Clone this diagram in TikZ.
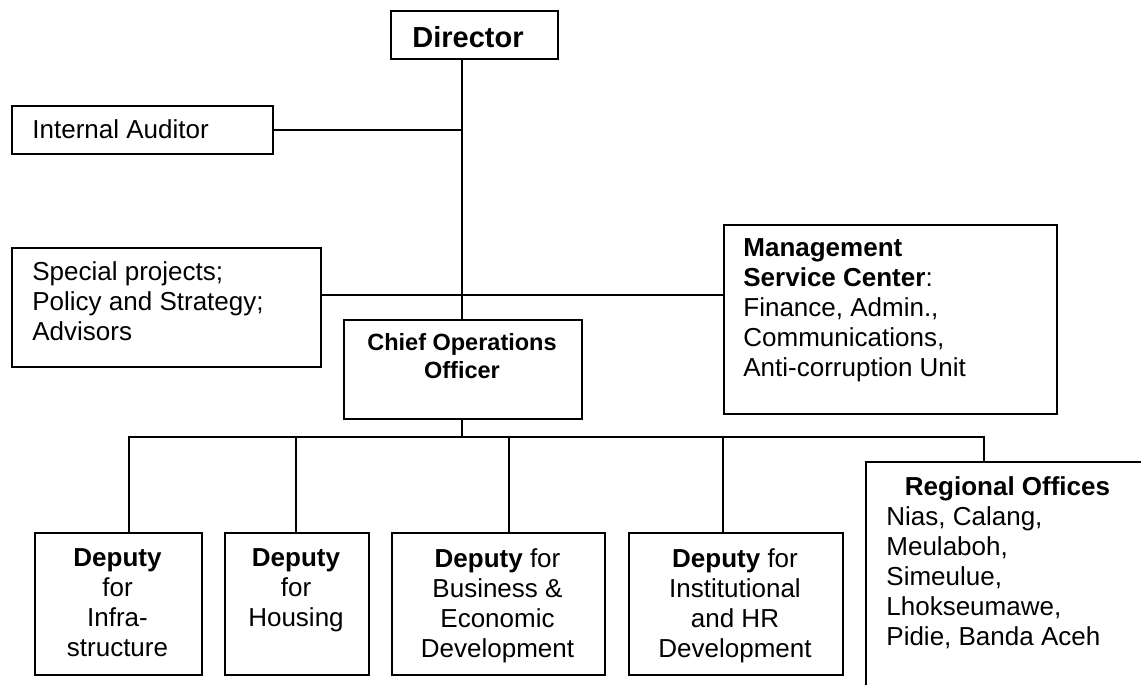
\documentclass[tikz,border=0pt]{standalone}
\usepackage{fontspec}
\setmainfont{Liberation Sans}
\begin{document}
\begin{tikzpicture}[x=0.5pt,y=-0.5pt,
  box/.style={draw=black,line width=1pt,rectangle,inner sep=0pt,anchor=north west},
  txt/.style={inner sep=0pt,font=\fontsize{13pt}{15pt}\selectfont},
  conn/.style={draw=black,line width=1pt}]
\useasboundingbox (0,0) rectangle (1141,685);
\clip (0,0) rectangle (1141,685);
% boxes
\node[box,minimum width=83.5pt,minimum height=24pt] (dir) at (390,10) {};
\node[box,minimum width=130.5pt,minimum height=24pt] (aud) at (11,105) {};
\node[box,minimum width=154.5pt,minimum height=59.5pt] (spec) at (11,247) {};
\node[box,minimum width=119pt,minimum height=49.5pt] (coo) at (343,319) {};
\node[box,minimum width=166.5pt,minimum height=94.5pt] (msc) at (723,224) {};
\node[box,minimum width=83.5pt,minimum height=71pt] (d1) at (34,532) {};
\node[box,minimum width=72pt,minimum height=71pt] (d2) at (224,532) {};
\node[box,minimum width=106.5pt,minimum height=71pt] (d3) at (391,532) {};
\node[box,minimum width=107pt,minimum height=71pt] (d4) at (628,532) {};
\node[box,minimum width=152.5pt,minimum height=129.5pt] (reg) at (865,461) {};
% texts
\node[txt,anchor=north west,font=\fontsize{14.5pt}{17pt}\selectfont\bfseries] (tdir) at (412,26) {Director};
\node[txt,anchor=north west] (taud) at (32,119.3) {Internal Auditor};
\node[txt,anchor=north west,align=left] (tspec) at (32,261.3) {Special projects;\\Policy and Strategy;\\Advisors};
\node[txt,anchor=north west,align=left] (tmsc) at (743,238.3) {\textbf{Management}\\\textbf{Service Center}:\\Finance, Admin.,\\Communications,\\Anti-corruption Unit};
\node[txt,anchor=north,align=center,font=\fontsize{11.75pt}{14pt}\selectfont\bfseries] (tcoo) at (462,333) {Chief Operations\\Officer};
\node[txt,anchor=north,align=center] (td1) at (117.5,548.3) {\textbf{Deputy}\\for\\Infra-\\structure};
\node[txt,anchor=north,align=center] (td2) at (296,548.3) {\textbf{Deputy}\\for\\Housing};
\node[txt,anchor=north,align=center] (td3) at (497.5,548.3) {\textbf{Deputy} for\\Business \&\\Economic\\Development};
\node[txt,anchor=north,align=center] (td4) at (735,548.3) {\textbf{Deputy} for\\Institutional\\and HR\\Development};
\node[txt,anchor=north,font=\fontsize{13pt}{15pt}\selectfont\bfseries] (treg) at (1007.5,476.3) {Regional Offices};
\node[txt,anchor=north west,align=left] (treglist) at (886,506.3) {Nias, Calang,\\Meulaboh,\\Simeulue,\\Lhokseumawe,\\Pidie, Banda Aceh};
% helper coordinates
\coordinate (spine) at (462,0);
\coordinate (hline) at (0,295);
\coordinate (bus) at (0,437);
\coordinate (x1) at (129,0);
\coordinate (x2) at (296,0);
\coordinate (x3) at (509,0);
\coordinate (x4) at (723,0);
\coordinate (x5) at (984,0);
% connectors
\draw[conn] (dir.south -| spine) -- (coo.north -| spine);
\draw[conn] (aud.east) -- (aud.east -| spine);
\draw[conn] (spec.east |- hline) -- (msc.west |- hline);
\draw[conn] (coo.south -| spine) -- (spine |- bus);
\draw[conn] (x1 |- d1.north) -- (x1 |- bus) -- (x5 |- bus) -- (x5 |- reg.north);
\draw[conn] (x2 |- bus) -- (x2 |- d2.north);
\draw[conn] (x3 |- bus) -- (x3 |- d3.north);
\draw[conn] (x4 |- bus) -- (x4 |- d4.north);
\end{tikzpicture}
\end{document}
